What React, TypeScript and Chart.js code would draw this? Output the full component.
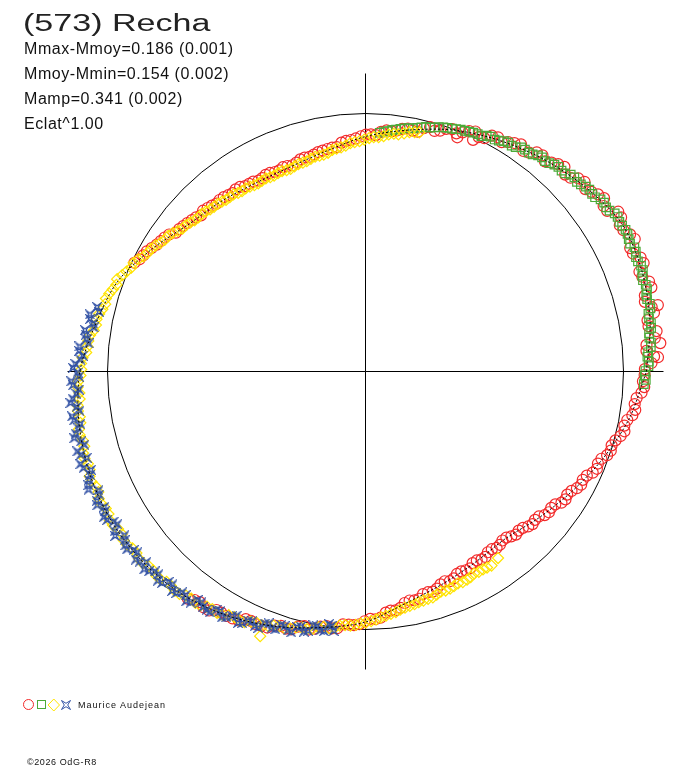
import React, { useEffect, useRef } from "react";
import { Chart, registerables } from "chart.js";

Chart.register(...registerables);

// ---------- texts ----------
const TITLE = "(573) Recha";
const STATS = [
  "Mmax-Mmoy=0.186 (0.001)",
  "Mmoy-Mmin=0.154 (0.002)",
  "Mamp=0.341 (0.002)",
  "Eclat^1.00",
];
const OBSERVER = "Maurice Audejean";
const CREDIT = "\u00a92026 OdG-R8";

// ---------- data: [phase angle (deg), relative flux (mean circle = 1)] ----------
const FIT_PHASE = [0, 10, 20, 30, 40, 50, 60, 70, 80, 90, 100, 110, 120, 130, 140, 150, 160, 170, 180, 190, 200, 210, 220, 230, 240, 250, 260, 270, 280, 290, 300, 310, 320, 330, 340, 350, 360];
const FIT_FLUX = [1.089, 1.12, 1.14, 1.147, 1.112, 1.074, 1.035, 0.996, 0.95, 0.911, 0.868, 0.845, 0.845, 0.864, 0.891, 0.953, 1.022, 1.062, 1.107, 1.128, 1.14, 1.143, 1.136, 1.12, 1.089, 1.05, 1.008, 0.971, 0.911, 0.876, 0.853, 0.845, 0.88, 0.926, 0.981, 1.039, 1.089];

const RED_POINTS: [number, number][] = [
  [232.0, 1.118], [234.3, 1.101], [236.8, 1.107], [239.1, 1.089], [241.7, 1.087], [244.2, 1.066], [246.4, 1.068], [249.0, 1.063], [251.6, 1.039], [253.9, 1.04],
  [256.5, 1.015], [258.8, 1.016], [261.3, 0.998], [263.7, 1.001], [266.2, 0.983], [268.6, 0.98], [271.1, 0.959], [273.5, 0.956], [276.0, 0.932], [278.4, 0.926],
  [280.9, 0.904], [283.3, 0.905], [285.8, 0.889], [288.2, 0.886], [290.7, 0.869], [293.1, 0.872], [295.6, 0.859], [298.0, 0.864], [300.5, 0.85], [302.9, 0.856],
  [305.4, 0.845], [307.8, 0.85], [310.3, 0.844], [312.7, 0.86], [315.2, 0.86], [317.6, 0.877], [320.1, 0.876], [322.5, 0.896], [325.0, 0.898], [327.4, 0.92],
  [329.9, 0.923], [332.3, 0.944], [334.8, 0.948], [337.2, 0.973], [339.7, 0.975], [342.1, 0.999], [344.6, 1.005], [347.0, 1.03], [349.5, 1.032], [351.9, 1.056],
  [354.4, 1.056], [356.8, 1.082], [359.3, 1.082],
  [1.7, 1.109], [2.8, 1.135], [4.2, 1.092], [5.5, 1.148], [6.6, 1.129], [9.1, 1.111], [11.5, 1.141], [12.8, 1.162], [14.0, 1.116], [16.4, 1.155], [18.9, 1.134],
  [21.3, 1.157], [23.8, 1.133], [26.2, 1.163], [28.7, 1.14], [31.1, 1.157], [33.6, 1.125], [36.0, 1.143], [38.5, 1.119], [40.9, 1.123], [43.4, 1.093],
  [45.8, 1.106], [48.3, 1.084], [50.7, 1.083], [53.2, 1.059], [55.6, 1.067], [58.1, 1.047], [60.5, 1.043], [63.0, 1.015], [65.1, 0.99], [65.4, 1.023],
  [67.9, 1.0], [68.6, 0.975], [70.3, 0.998], [72.8, 0.977], [75.2, 0.98], [77.7, 0.951], [80.1, 0.956], [82.6, 0.942], [85.0, 0.938], [87.5, 0.917],
  [89.9, 0.918], [92.4, 0.904], [94.8, 0.897], [97.3, 0.877], [99.7, 0.875],
  [102.2, 0.87], [104.6, 0.86], [107.1, 0.86], [109.5, 0.848], [112.0, 0.854], [114.4, 0.849], [116.9, 0.855], [119.3, 0.848], [121.8, 0.856], [124.2, 0.865],
  [126.7, 0.862], [129.1, 0.871], [131.6, 0.87], [134.0, 0.881], [136.5, 0.879], [138.9, 0.893], [141.4, 0.904], [143.8, 0.911], [146.3, 0.936], [148.7, 0.947],
  [151.2, 0.967], [153.6, 0.978],
  [233.2, 1.106], [235.5, 1.109], [238.0, 1.09], [240.4, 1.09], [243.0, 1.083], [245.3, 1.064], [247.7, 1.066], [250.3, 1.046], [252.8, 1.043], [255.2, 1.023],
  [257.6, 1.024], [260.0, 1.004], [262.5, 1.004], [264.9, 0.984], [267.4, 0.984], [269.8, 0.968], [272.3, 0.961], [274.8, 0.938], [277.2, 0.933], [279.6, 0.91],
  [282.1, 0.907], [284.5, 0.891], [287.0, 0.892], [289.4, 0.875], [291.9, 0.876], [294.3, 0.861], [296.8, 0.863], [299.2, 0.851], [301.7, 0.856], [304.1, 0.846],
  [306.6, 0.852], [309.0, 0.843], [311.5, 0.853], [313.9, 0.856], [316.4, 0.871], [318.8, 0.873], [321.3, 0.89], [323.7, 0.893], [326.2, 0.914], [328.6, 0.916],
  [331.1, 0.936], [333.5, 0.941], [336.0, 0.964], [338.4, 0.969], [340.9, 0.991], [343.3, 0.996], [345.8, 1.02], [348.2, 1.025], [350.7, 1.048], [353.1, 1.051],
  [355.6, 1.073], [358.0, 1.076],
  [0.5, 1.083], [3.0, 1.12], [5.4, 1.094], [7.9, 1.139], [10.3, 1.111], [12.7, 1.137], [15.2, 1.122], [17.6, 1.153], [20.0, 1.13], [22.5, 1.154],
  [25.0, 1.132], [27.4, 1.155], [29.9, 1.137], [32.3, 1.159], [34.8, 1.124], [37.3, 1.133], [39.7, 1.107], [42.2, 1.114], [44.6, 1.087], [47.1, 1.097],
  [49.5, 1.071], [52.0, 1.078], [54.4, 1.051], [56.9, 1.057], [59.3, 1.034], [61.8, 1.037], [64.2, 1.009], [66.7, 1.015], [69.1, 0.988], [71.6, 0.991],
  [74.0, 0.97], [76.5, 0.97], [78.9, 0.951], [81.4, 0.951], [83.8, 0.936], [86.3, 0.931], [88.7, 0.919], [91.1, 0.912], [93.6, 0.899], [96.0, 0.892],
  [98.5, 0.877], [101.0, 0.872], [103.4, 0.864], [105.9, 0.862], [108.3, 0.853], [110.8, 0.852], [113.2, 0.848], [115.7, 0.854], [118.1, 0.85], [120.6, 0.855],
  [123.0, 0.857], [125.5, 0.867], [127.9, 0.866], [130.4, 0.873], [132.8, 0.876], [135.3, 0.886], [137.7, 0.888], [140.2, 0.899], [142.6, 0.909], [145.1, 0.928],
  [147.5, 0.941], [150.0, 0.957], [152.4, 0.972], [154.8, 0.99],
];

const GREEN_POINTS: [number, number][] = [
  [357.4, 1.08], [359.2, 1.082], [1.1, 1.097], [3.0, 1.094], [4.9, 1.11], [6.8, 1.108], [8.7, 1.12], [10.6, 1.118], [12.5, 1.131], [14.4, 1.127],
  [16.3, 1.137], [18.2, 1.132], [20.1, 1.145], [22.0, 1.139], [23.9, 1.146], [25.8, 1.139], [27.7, 1.147], [29.6, 1.144], [31.5, 1.146], [33.4, 1.133],
  [35.3, 1.133], [37.2, 1.117], [39.1, 1.118], [41.0, 1.106], [42.9, 1.105], [44.8, 1.09], [46.7, 1.09], [48.6, 1.077], [50.5, 1.076], [52.4, 1.062],
  [54.3, 1.059], [56.2, 1.046], [58.1, 1.045], [60.0, 1.033], [61.9, 1.032], [63.8, 1.017], [65.7, 1.016], [67.6, 1.009], [69.5, 1.003], [71.4, 0.996],
  [73.3, 0.989], [75.2, 0.978], [77.1, 0.971], [79.0, 0.96], [80.9, 0.954], [82.8, 0.945], [84.7, 0.936], [86.6, 0.927],
  [358.3, 1.087], [0.1, 1.085], [2.0, 1.099], [3.9, 1.098], [5.8, 1.112], [7.7, 1.109], [9.6, 1.122], [11.5, 1.119], [13.4, 1.133], [15.3, 1.128],
  [17.2, 1.137], [19.1, 1.135], [21.0, 1.144], [22.9, 1.138], [24.8, 1.148], [26.7, 1.142], [28.6, 1.148], [30.5, 1.142], [32.4, 1.144], [34.3, 1.129],
  [36.2, 1.129], [38.1, 1.116], [40.0, 1.115], [41.9, 1.101], [43.8, 1.102], [45.7, 1.088], [47.6, 1.086], [49.5, 1.072], [51.4, 1.072], [53.3, 1.058],
  [55.2, 1.058], [57.1, 1.043], [59.0, 1.042], [60.9, 1.029], [62.8, 1.028], [64.7, 1.018], [66.6, 1.013], [68.5, 1.008], [70.4, 0.999], [72.3, 0.993],
  [74.2, 0.983], [76.1, 0.977], [78.0, 0.966], [79.9, 0.958], [81.8, 0.95], [83.7, 0.942], [85.6, 0.933],
];

const YELLOW_POINTS: [number, number][] = [
  [77.3, 0.95], [79.6, 0.943], [82.1, 0.928], [84.4, 0.923], [86.8, 0.91], [89.1, 0.905], [91.5, 0.893], [93.8, 0.887], [96.2, 0.874], [98.5, 0.868],
  [100.9, 0.856], [103.2, 0.855], [105.6, 0.846], [107.9, 0.845], [110.3, 0.837], [112.6, 0.841], [115.0, 0.838], [117.3, 0.842], [119.7, 0.839], [122.0, 0.845],
  [124.4, 0.847], [126.7, 0.856], [129.1, 0.857], [131.4, 0.866], [133.8, 0.87], [136.1, 0.881], [138.5, 0.884], [140.8, 0.898], [143.2, 0.909], [145.5, 0.928],
  [147.9, 0.938], [150.2, 0.957], [152.6, 0.969], [154.9, 0.993], [157.3, 1.004], [159.6, 1.027], [162.0, 1.03], [164.3, 1.045], [166.7, 1.048], [169.0, 1.062],
  [171.4, 1.065], [173.7, 1.081], [176.1, 1.085], [178.4, 1.103], [180.8, 1.105], [183.1, 1.117], [185.5, 1.113], [187.8, 1.125], [190.2, 1.123], [192.5, 1.135],
  [194.9, 1.128], [197.2, 1.14], [199.6, 1.135], [201.9, 1.145], [204.3, 1.136], [206.6, 1.145], [209.0, 1.139], [211.3, 1.146], [213.7, 1.135], [216.0, 1.142],
  [218.4, 1.133], [220.7, 1.139], [223.1, 1.128], [225.4, 1.132], [227.8, 1.122], [230.1, 1.124], [232.5, 1.109], [234.8, 1.11], [237.2, 1.096], [239.5, 1.094],
  [241.9, 1.079], [244.2, 1.079], [246.6, 1.061], [248.3, 1.104], [249.0, 1.056], [251.3, 1.042], [253.7, 1.038], [256.0, 1.023], [258.4, 1.018], [260.7, 1.003],
  [263.1, 1.001], [265.4, 0.986], [267.8, 0.983], [270.1, 0.973], [272.5, 0.962], [274.8, 0.95], [277.2, 0.94], [279.5, 0.928], [281.9, 0.922], [284.2, 0.916],
  [286.6, 0.914], [288.9, 0.902], [291.3, 0.903], [293.6, 0.896], [296.0, 0.898], [298.3, 0.889], [300.7, 0.892], [303.0, 0.897], [305.4, 0.887],
  [78.4, 0.947], [80.8, 0.935], [83.2, 0.928], [85.6, 0.915], [88.0, 0.909], [90.3, 0.899], [92.7, 0.89], [95.0, 0.879], [97.4, 0.871], [99.7, 0.86],
  [102.0, 0.855], [104.4, 0.851], [106.7, 0.845], [109.1, 0.841], [111.4, 0.838], [113.8, 0.84], [116.1, 0.839], [118.5, 0.841], [120.8, 0.841], [123.2, 0.848],
  [125.5, 0.85], [127.9, 0.856], [130.2, 0.862], [132.6, 0.867], [134.9, 0.876], [137.3, 0.881], [139.6, 0.891], [142.0, 0.9], [144.3, 0.92], [146.7, 0.93],
  [149.0, 0.949], [151.4, 0.961], [153.7, 0.982], [156.1, 0.993], [158.4, 1.014], [160.8, 1.022], [163.1, 1.038], [165.5, 1.042], [167.8, 1.056], [170.2, 1.06],
  [172.5, 1.077], [174.9, 1.082], [177.2, 1.098], [179.6, 1.102], [182.0, 1.115], [184.3, 1.112], [186.7, 1.124], [189.0, 1.121], [191.4, 1.133], [193.7, 1.128],
  [196.1, 1.14], [198.4, 1.134], [200.8, 1.144], [203.1, 1.136], [205.5, 1.145], [207.8, 1.138], [210.2, 1.147], [212.5, 1.137], [214.9, 1.143], [217.2, 1.134],
  [219.6, 1.139], [221.9, 1.129], [224.3, 1.133], [226.6, 1.122], [229.0, 1.126], [231.3, 1.113], [233.7, 1.113], [236.0, 1.099], [238.4, 1.098], [240.7, 1.083],
  [243.1, 1.082], [245.4, 1.066], [247.8, 1.063], [250.1, 1.047], [252.5, 1.043], [254.8, 1.028], [257.2, 1.024], [259.5, 1.008], [261.9, 1.005], [264.2, 0.99],
  [266.6, 0.987], [268.9, 0.977], [271.3, 0.968], [273.6, 0.955], [276.0, 0.945], [278.3, 0.933], [280.7, 0.925], [283.0, 0.918], [285.4, 0.914], [287.7, 0.908],
  [290.1, 0.904], [292.4, 0.9], [294.8, 0.899], [297.1, 0.895], [299.5, 0.892], [301.8, 0.894],
];

const BLUE_POINTS: [number, number][] = [
  [166.5, 1.07], [168.3, 1.091], [170.0, 1.072], [171.6, 1.099], [173.4, 1.089], [175.0, 1.113], [176.8, 1.097], [178.5, 1.125], [180.2, 1.116], [181.9, 1.141],
  [183.6, 1.113], [185.3, 1.14], [187.0, 1.128], [188.7, 1.151], [190.4, 1.124], [192.1, 1.149], [193.8, 1.135], [195.5, 1.159], [197.2, 1.131], [198.9, 1.155],
  [200.6, 1.14], [202.3, 1.161], [204.0, 1.133], [205.7, 1.156], [207.4, 1.14], [209.1, 1.161], [210.8, 1.136], [212.5, 1.153], [214.2, 1.13], [215.9, 1.149],
  [217.6, 1.134], [219.3, 1.151], [221.0, 1.126], [222.7, 1.142], [224.4, 1.123], [226.1, 1.138], [227.8, 1.114], [229.5, 1.129], [231.2, 1.112], [232.9, 1.123],
  [234.6, 1.098], [236.3, 1.11], [238.0, 1.089], [239.7, 1.104], [241.4, 1.08], [243.1, 1.093], [244.8, 1.068], [246.5, 1.076], [248.2, 1.052], [249.9, 1.06],
  [251.6, 1.035], [253.3, 1.048], [255.0, 1.025], [256.7, 1.036], [258.4, 1.005], [260.1, 1.018], [261.8, 0.989], [263.0, 1.013],
  [167.4, 1.058], [169.2, 1.087], [170.8, 1.067], [172.5, 1.093], [174.2, 1.079], [175.9, 1.113], [177.6, 1.106], [179.3, 1.134], [181.0, 1.111], [182.7, 1.135],
  [184.4, 1.124], [186.1, 1.15], [187.8, 1.119], [189.5, 1.145], [191.2, 1.134], [192.9, 1.158], [194.6, 1.126], [196.3, 1.15], [198.0, 1.162], [199.7, 1.13],
  [201.4, 1.152], [203.1, 1.167], [204.8, 1.137], [206.5, 1.162], [208.2, 1.146], [209.9, 1.155], [211.6, 1.13], [213.3, 1.161], [215.0, 1.14], [216.7, 1.154],
  [218.4, 1.129], [220.1, 1.144], [221.8, 1.151], [223.5, 1.126], [225.2, 1.143], [226.9, 1.117], [228.6, 1.134], [230.3, 1.113], [232.0, 1.13], [233.7, 1.099],
  [235.4, 1.11], [237.1, 1.112], [238.8, 1.085], [240.5, 1.095], [242.2, 1.07], [243.9, 1.086], [245.6, 1.063], [247.3, 1.077], [249.0, 1.046], [250.7, 1.059],
  [252.4, 1.036], [254.1, 1.051], [255.8, 1.02], [257.5, 1.029], [259.2, 1.005], [260.9, 1.019], [262.4, 0.995],
];

// ---------- style / layout ----------
const RED = "#f22a2a";
const GREEN = "#4caa38";
const YELLOW = "#ffe400";
const BLUE = "#3050a4";
const W = 688;
const H = 768;
const PX_PER_UNIT = 258;
const CENTER_X = 365.5;
const CENTER_Y = 371.5;
const AXIS_LIMIT = 1.155;
const FONT = '"Liberation Sans", Arial, Helvetica, sans-serif';

function toXY(points: [number, number][]) {
  return points.map(([deg, flux]) => {
    const a = (deg * Math.PI) / 180;
    return { x: flux * Math.cos(a), y: flux * Math.sin(a) };
  });
}

function makeStar(color: string, half: number) {
  const size = Math.ceil(half * 2) + 2;
  const c = document.createElement("canvas");
  c.width = size;
  c.height = size;
  const g = c.getContext("2d")!;
  const m = size / 2;
  const inner = half * 0.3;
  g.strokeStyle = color;
  g.lineWidth = 1.2;
  g.beginPath();
  g.moveTo(m - half, m - half);
  g.lineTo(m, m - inner);
  g.lineTo(m + half, m - half);
  g.lineTo(m + inner, m);
  g.lineTo(m + half, m + half);
  g.lineTo(m, m + inner);
  g.lineTo(m - half, m + half);
  g.lineTo(m - inner, m);
  g.closePath();
  g.stroke();
  return c;
}

const polarFrame = {
  id: "polarFrame",
  beforeDatasetsDraw(chart: any) {
    const { ctx } = chart;
    const xs = chart.scales.x;
    const ys = chart.scales.y;
    const cx = xs.getPixelForValue(0);
    const cy = ys.getPixelForValue(0);
    const rx = xs.getPixelForValue(1) - cx;
    const ry = cy - ys.getPixelForValue(1);
    ctx.save();
    ctx.strokeStyle = "#000";
    ctx.lineWidth = 1;
    ctx.beginPath();
    ctx.ellipse(cx, cy, rx, ry, 0, 0, Math.PI * 2);
    ctx.stroke();
    ctx.beginPath();
    ctx.moveTo(xs.getPixelForValue(-AXIS_LIMIT), cy);
    ctx.lineTo(xs.getPixelForValue(AXIS_LIMIT), cy);
    ctx.moveTo(cx, ys.getPixelForValue(AXIS_LIMIT));
    ctx.lineTo(cx, ys.getPixelForValue(-AXIS_LIMIT));
    ctx.stroke();
    ctx.restore();
  },
};

export default function App() {
  const ref = useRef<HTMLCanvasElement | null>(null);

  useEffect(() => {
    if (!ref.current) return;
    const star = makeStar(BLUE, 4);
    const fit = FIT_PHASE.map((d, i) => [d, FIT_FLUX[i]] as [number, number]);
    const chart = new Chart(ref.current, {
      type: "scatter",
      data: {
        datasets: [
          {
            label: "fit",
            data: toXY(fit),
            showLine: true,
            borderColor: "#000",
            borderWidth: 1,
            borderDash: [2, 2],
            pointRadius: 0,
            tension: 0.3,
            fill: false,
            order: 1,
          } as any,
          {
            label: "blue",
            data: toXY(BLUE_POINTS),
            pointStyle: star as any,
            pointRadius: 4,
            order: 2,
          },
          {
            label: "yellow",
            data: toXY(YELLOW_POINTS),
            pointStyle: "rectRot",
            pointRadius: 5.5,
            borderColor: YELLOW,
            backgroundColor: "rgba(0,0,0,0)",
            borderWidth: 1.2,
            order: 3,
          },
          {
            label: "green",
            data: toXY(GREEN_POINTS),
            pointStyle: "rect",
            pointRadius: 6,
            borderColor: GREEN,
            backgroundColor: "rgba(0,0,0,0)",
            borderWidth: 1.2,
            order: 4,
          },
          {
            label: "red",
            data: toXY(RED_POINTS),
            pointStyle: "circle",
            pointRadius: 5.5,
            borderColor: RED,
            backgroundColor: "rgba(0,0,0,0)",
            borderWidth: 1.2,
            order: 5,
          },
        ],
      },
      options: {
        animation: false,
        responsive: false,
        events: [],
        layout: { padding: 0, autoPadding: false },
        plugins: { legend: { display: false }, tooltip: { enabled: false }, title: { display: false } },
        scales: {
          x: { type: "linear", display: false, min: -CENTER_X / PX_PER_UNIT, max: (W - CENTER_X) / PX_PER_UNIT },
          y: { type: "linear", display: false, min: -(H - CENTER_Y) / PX_PER_UNIT, max: CENTER_Y / PX_PER_UNIT },
        },
      } as any,
      plugins: [polarFrame],
    });
    return () => chart.destroy();
  }, []);

  const textBase: React.CSSProperties = {
    position: "absolute",
    whiteSpace: "nowrap",
    fontFamily: FONT,
    color: "#111",
    margin: 0,
  };

  return (
    <div style={{ position: "fixed", left: 0, top: 0, width: W, height: H, background: "#fff", overflow: "hidden" }}>
      <canvas ref={ref} width={W} height={H} style={{ position: "absolute", left: 0, top: 0, width: W, height: H }} />
      <div style={{ ...textBase, left: 23, top: 12, fontSize: 23, lineHeight: "23px", color: "#222", transform: "scaleX(1.48)", transformOrigin: "left top" }}>
        {TITLE}
      </div>
      {STATS.map((s, i) => (
        <div key={i} style={{ ...textBase, left: 24, top: 40.5 + i * 25.3, fontSize: 16, lineHeight: "16px", letterSpacing: "0.55px" }}>
          {s}
        </div>
      ))}
      <svg width={60} height={16} style={{ position: "absolute", left: 18, top: 697 }}>
        <circle cx={10.5} cy={7.5} r={5} fill="none" stroke={RED} strokeWidth={1} />
        <rect x={19.5} y={3.5} width={8} height={8} fill="none" stroke={GREEN} strokeWidth={1} />
        <polygon points="35.8,2 41.5,8 35.8,14 30.1,8" fill="none" stroke={YELLOW} strokeWidth={1} />
        <path d="M43.5,3.5 L48,6.3 L52.5,3.5 L49.7,8 L52.5,12.5 L48,9.7 L43.5,12.5 L46.3,8 Z" fill="none" stroke={BLUE} strokeWidth={1} />
      </svg>
      <div style={{ ...textBase, left: 78, top: 701, fontSize: 9, lineHeight: "9px", letterSpacing: "1px" }}>{OBSERVER}</div>
      <div style={{ ...textBase, left: 27, top: 758.4, fontSize: 9, lineHeight: "9px", letterSpacing: "0.6px" }}>{CREDIT}</div>
    </div>
  );
}
